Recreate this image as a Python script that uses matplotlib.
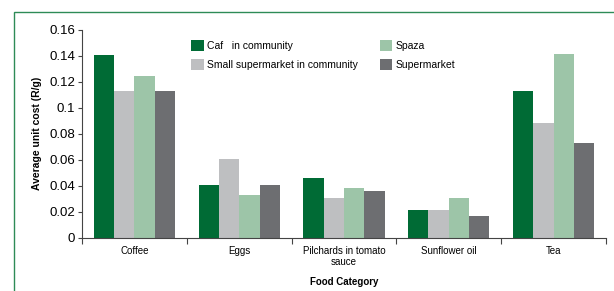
import matplotlib.pyplot as plt
import numpy as np
from matplotlib.patches import Rectangle

plt.rcParams['font.family'] = ['Liberation Sans', 'DejaVu Sans']

categories = ['Coffee', 'Eggs', 'Pilchards in tomato\nsauce', 'Sunflower oil', 'Tea']
series_names = ['Caf   in community', 'Small supermarket in community', 'Spaza', 'Supermarket']
cafe = [0.1405, 0.0404, 0.0458, 0.0211, 0.113]
small_super = [0.113, 0.0605, 0.0304, 0.0211, 0.0882]
spaza = [0.1245, 0.0327, 0.038, 0.0304, 0.1415]
supermarket = [0.113, 0.0404, 0.0358, 0.0165, 0.0728]
colors = ['#006B35', '#BEBFC1', '#9DC5A8', '#6D6E71']

fig = plt.figure(figsize=(6.14, 2.91), dpi=100)
# green frame around the figure, running off the right and bottom edges
fig.patches.append(Rectangle((14 / 614, -0.1), 1.2, 1 - 12 / 291 + 0.1,
                             transform=fig.transFigure, fill=False,
                             edgecolor='#2E8B57', linewidth=1.0))

ax = fig.add_axes([82 / 614, 1 - 237.5 / 291, 524 / 614, 207.5 / 291])
x = np.arange(len(categories))
w = 0.194
all_series = [cafe, small_super, spaza, supermarket]
for i, (vals, name, c) in enumerate(zip(all_series, series_names, colors)):
    ax.bar(x + (i - 1.5) * w, vals, w, color=c, label=name, linewidth=0)

ax.set_xlim(-0.5, len(categories) - 0.5)
ax.set_ylim(0, 0.16)
ax.set_yticks(np.arange(0, 0.161, 0.02))
ax.set_yticklabels(['0', '0.02', '0.04', '0.06', '0.08', '0.1', '0.12', '0.14', '0.16'])
ax.set_xticks(x)
ax.set_xticklabels(categories, fontsize=7, linespacing=1.15)
ax.set_xticks(np.arange(-0.5, len(categories)), minor=True)
ax.tick_params(axis='x', which='major', length=0, pad=6)
ax.tick_params(axis='x', which='minor', length=4, width=0.8, color='#444444')
ax.tick_params(axis='y', length=3, width=0.8, color='#444444', labelsize=9.5, pad=2)
for s in ['top', 'right']:
    ax.spines[s].set_visible(False)
for s in ['left', 'bottom']:
    ax.spines[s].set_color('#444444')
    ax.spines[s].set_linewidth(0.8)

ax.set_ylabel('Average unit cost (R/g)', fontsize=7.5, fontweight='bold', labelpad=5)
ax.set_xlabel('Food Category', fontsize=7, fontweight='bold', labelpad=7)

ax.legend(ncol=2, loc='upper left', bbox_to_anchor=(0.195, 0.985), frameon=False,
          fontsize=7.5, handlelength=1.2, handleheight=1.2, handletextpad=0.3,
          columnspacing=2.1, labelspacing=0.75, borderaxespad=0.3)

plt.savefig('out.png', dpi=100)
